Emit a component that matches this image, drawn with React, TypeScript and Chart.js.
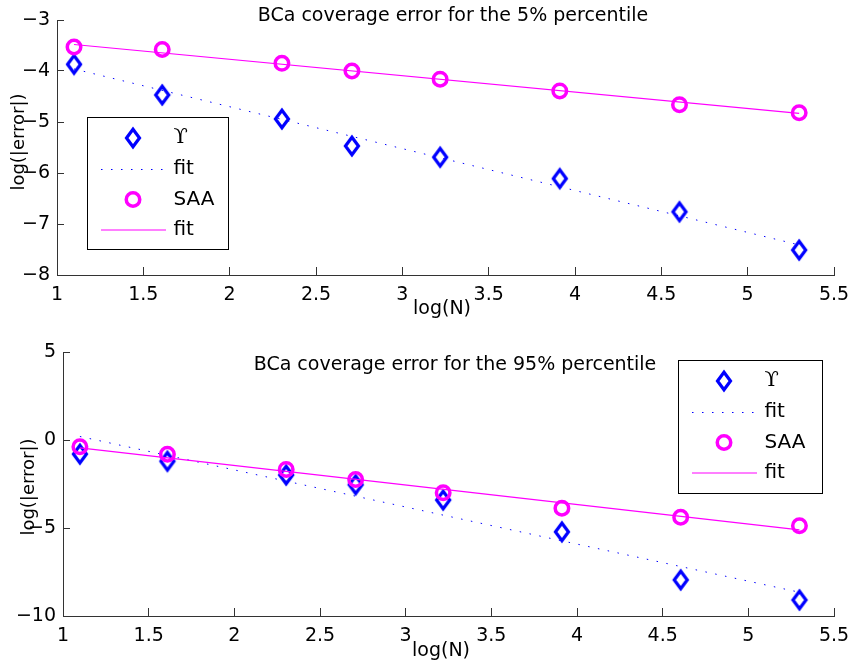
import React, { useEffect, useRef } from 'react';
import { Chart, registerables } from 'chart.js';

Chart.register(...registerables);

// ---- data ----
const logN = [1.0986, 1.6094, 2.3026, 2.7081, 3.2189, 3.912, 4.6052, 5.2983];
const fitX = [1.0986, 5.2983];

const topUpsilon = [-3.87, -4.47, -4.94, -5.47, -5.69, -6.11, -6.76, -7.51];
const topSAA = [-3.53, -3.58, -3.85, -4.0, -4.16, -4.39, -4.66, -4.82];
const topUpsilonFit = [-3.96, -7.41];
const topSAAFit = [-3.48, -4.83];

const botUpsilon = [-0.8, -1.21, -1.99, -2.54, -3.41, -5.22, -7.95, -9.09];
const botSAA = [-0.38, -0.81, -1.67, -2.24, -3.0, -3.88, -4.39, -4.87];
const botUpsilonFit = [0.2, -8.65];
const botSAAFit = [-0.45, -5.11];

const xTickRange = [1, 5.5, 0.5];
const topYRange = [-8, -3, 1];
const botYRange = [-10, 5, 5];

const titles = [
  'BCa coverage error for the 5% percentile',
  'BCa coverage error for the 95% percentile',
];
const legendLabels = ['\u03D2', 'fit', 'SAA', 'fit'];
const xLabel = 'log(N)';
const yLabel = 'log(|error|)';

const BLUE = '#0000ff';
const MAGENTA = '#ff00ff';
const AXIS = '#333333';
const FONT = '"DejaVu Sans", "Liberation Sans", sans-serif';

function makeDiamond(): HTMLCanvasElement {
  const c = document.createElement('canvas');
  c.width = 20;
  c.height = 26;
  const g = c.getContext('2d')!;
  g.strokeStyle = BLUE;
  g.lineWidth = 3.2;
  g.lineJoin = 'miter';
  g.beginPath();
  g.moveTo(10, 13 - 8.8);
  g.lineTo(10 + 6.5, 13);
  g.lineTo(10, 13 + 8.8);
  g.lineTo(10 - 6.5, 13);
  g.closePath();
  g.stroke();
  return c;
}

const fmt = (v: number | string) => String(v).replace('-', '\u2212');

interface Cfg {
  W: number;
  H: number;
  area: { left: number; right: number; top: number; bottom: number };
  yRange: number[];
  ups: number[];
  saa: number[];
  upsFit: number[];
  saaFit: number[];
  title: string;
  titlePos: [number, number];
  xLabelPos: [number, number];
  yLabelPos: [number, number];
  legend: { x: number; y: number; w: number; h: number };
}

function build(canvas: HTMLCanvasElement, cfg: Cfg, diamond: HTMLCanvasElement) {
  const pts = (xs: number[], ys: number[]) => xs.map((x, i) => ({ x, y: ys[i] }));

  const annot = {
    id: 'annot',
    afterDraw(chart: any) {
      const ctx: CanvasRenderingContext2D = chart.ctx;
      ctx.save();
      ctx.fillStyle = '#000';
      ctx.textAlign = 'center';
      ctx.textBaseline = 'middle';
      ctx.font = `19px ${FONT}`;
      ctx.fillText(cfg.title, cfg.titlePos[0], cfg.titlePos[1]);
      ctx.fillText(xLabel, cfg.xLabelPos[0], cfg.xLabelPos[1]);
      ctx.save();
      ctx.font = `18px ${FONT}`;
      ctx.translate(cfg.yLabelPos[0], cfg.yLabelPos[1]);
      ctx.rotate(-Math.PI / 2);
      ctx.fillText(yLabel, 0, 0);
      ctx.restore();

      // legend
      const { x, y, w, h } = cfg.legend;
      ctx.fillStyle = '#fff';
      ctx.fillRect(x, y, w, h);
      ctx.strokeStyle = '#000';
      ctx.lineWidth = 1;
      ctx.strokeRect(x + 0.5, y + 0.5, w, h);
      const rows = [21, 52, 82.5, 113];
      const mx = x + 46;
      const tx = x + 86.5;
      // row 1 diamond
      ctx.drawImage(diamond, Math.round(mx - 10), Math.round(y + rows[0] - 13));
      // row 2 dotted
      ctx.strokeStyle = BLUE;
      ctx.lineWidth = 1;
      ctx.setLineDash([1.5, 8.5]);
      ctx.beginPath();
      ctx.moveTo(x + 14, y + rows[1] + 0.5);
      ctx.lineTo(x + 79, y + rows[1] + 0.5);
      ctx.stroke();
      ctx.setLineDash([]);
      // row 3 circle
      ctx.strokeStyle = MAGENTA;
      ctx.lineWidth = 3.5;
      ctx.beginPath();
      ctx.arc(mx, y + rows[2], 6.75, 0, Math.PI * 2);
      ctx.stroke();
      // row 4 line
      ctx.lineWidth = 1.2;
      ctx.beginPath();
      ctx.moveTo(x + 14, y + rows[3]);
      ctx.lineTo(x + 79, y + rows[3]);
      ctx.stroke();
      // texts
      ctx.fillStyle = '#000';
      ctx.textAlign = 'left';
      ctx.font = `21px "DejaVu Serif", "Liberation Serif", serif`;
      ctx.fillText(legendLabels[0], tx, y + rows[0]);
      ctx.font = `20px ${FONT}`;
      ctx.fillText(legendLabels[1], tx, y + rows[1]);
      ctx.fillText(legendLabels[2], tx, y + rows[2]);
      ctx.fillText(legendLabels[3], tx, y + rows[3]);
      ctx.restore();
    },
  };

  const tickFont = { family: FONT, size: 19 };

  return new Chart(canvas, {
    type: 'scatter',
    data: {
      datasets: [
        {
          label: 'Upsilon',
          data: pts(logN, cfg.ups),
          pointStyle: diamond as any,
          pointRadius: 8,
          showLine: false,
          order: 4,
        },
        {
          label: 'fit',
          data: pts(fitX, cfg.upsFit),
          showLine: true,
          pointRadius: 0,
          borderColor: BLUE,
          borderWidth: 1,
          borderDash: [1.5, 8.5],
          order: 3,
        },
        {
          label: 'SAA',
          data: pts(logN, cfg.saa),
          pointStyle: 'circle',
          pointRadius: 6.75,
          pointBorderWidth: 3.5,
          pointBorderColor: MAGENTA,
          pointBackgroundColor: 'rgba(0,0,0,0)',
          showLine: false,
          order: 2,
        },
        {
          label: 'fit',
          data: pts(fitX, cfg.saaFit),
          showLine: true,
          pointRadius: 0,
          borderColor: MAGENTA,
          borderWidth: 1.2,
          order: 1,
        },
      ] as any,
    },
    options: {
      animation: false,
      responsive: false,
      events: [],
      layout: {
        padding: { left: 0, top: cfg.area.top, right: cfg.W - cfg.area.right, bottom: 0 },
      },
      plugins: {
        legend: { display: false },
        tooltip: { enabled: false },
        title: { display: false },
      },
      scales: {
        x: {
          type: 'linear',
          min: xTickRange[0],
          max: xTickRange[1],
          ticks: {
            stepSize: xTickRange[2],
            autoSkip: false,
            maxRotation: 0,
            padding: 16.6,
            color: '#000',
            font: tickFont,
            callback: (v: any) => fmt(v),
          },
          grid: {
            drawOnChartArea: false,
            drawTicks: true,
            tickLength: -8,
            color: AXIS,
            lineWidth: 1,
          },
          border: { display: true, color: AXIS, width: 1 },
          afterFit: (s: any) => {
            s.height = cfg.H - cfg.area.bottom;
            s.paddingLeft = 0;
            s.paddingRight = 0;
            s.paddingTop = 0;
            s.paddingBottom = 0;
          },
        },
        y: {
          type: 'linear',
          min: cfg.yRange[0],
          max: cfg.yRange[1],
          ticks: {
            stepSize: cfg.yRange[2],
            autoSkip: false,
            padding: 14,
            color: '#000',
            font: tickFont,
            callback: (v: any) => fmt(v),
          },
          grid: {
            drawOnChartArea: false,
            drawTicks: true,
            tickLength: -7,
            color: AXIS,
            lineWidth: 1,
          },
          border: { display: true, color: AXIS, width: 1 },
          afterFit: (s: any) => {
            s.width = cfg.area.left;
            s.paddingLeft = 0;
            s.paddingRight = 0;
            s.paddingTop = 0;
            s.paddingBottom = 0;
          },
        },
      },
    } as any,
    plugins: [annot],
  });
}

export default function App() {
  const ref1 = useRef<HTMLCanvasElement>(null);
  const ref2 = useRef<HTMLCanvasElement>(null);

  useEffect(() => {
    const diamond = makeDiamond();
    const c1 = build(
      ref1.current!,
      {
        W: 851,
        H: 330,
        area: { left: 57, right: 834, top: 20, bottom: 275 },
        yRange: topYRange,
        ups: topUpsilon,
        saa: topSAA,
        upsFit: topUpsilonFit,
        saaFit: topSAAFit,
        title: titles[0],
        titlePos: [453, 16],
        xLabelPos: [442, 309],
        yLabelPos: [19, 142],
        legend: { x: 87, y: 117, w: 141, h: 132 },
      },
      diamond
    );
    const c2 = build(
      ref2.current!,
      {
        W: 851,
        H: 336,
        area: { left: 63, right: 834, top: 22, bottom: 286 },
        yRange: botYRange,
        ups: botUpsilon,
        saa: botSAA,
        upsFit: botUpsilonFit,
        saaFit: botSAAFit,
        title: titles[1],
        titlePos: [455, 35],
        xLabelPos: [441, 321],
        yLabelPos: [29, 157],
        legend: { x: 678, y: 30, w: 144, h: 133 },
      },
      diamond
    );
    return () => {
      c1.destroy();
      c2.destroy();
    };
  }, []);

  return (
    <div style={{ position: 'absolute', left: 0, top: 0, width: 851, height: 666, background: '#fff' }}>
      <canvas
        ref={ref1}
        width={851}
        height={330}
        style={{ position: 'absolute', left: 0, top: 0, width: 851, height: 330 }}
      />
      <canvas
        ref={ref2}
        width={851}
        height={336}
        style={{ position: 'absolute', left: 0, top: 330, width: 851, height: 336 }}
      />
    </div>
  );
}
